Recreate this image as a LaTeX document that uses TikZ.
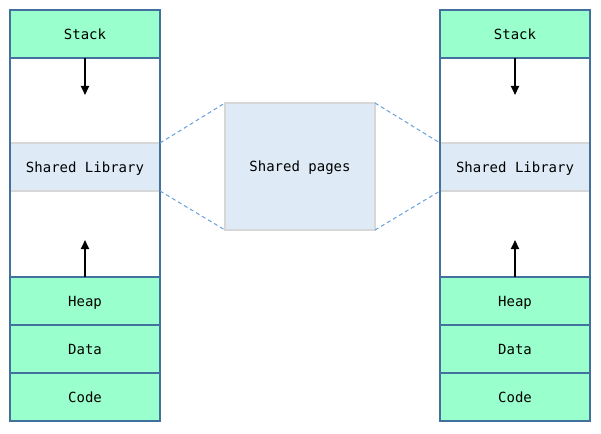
\documentclass[tikz,border=0pt]{standalone}
\usepackage{fontspec}
\setmonofont{DejaVu Sans Mono}
\usetikzlibrary{arrows.meta}
\definecolor{seggreen}{RGB}{153,255,204}
\definecolor{segblue}{RGB}{65,113,156}
\definecolor{shfill}{RGB}{222,235,247}
\definecolor{shgrey}{RGB}{215,215,215}
\definecolor{dashblue}{RGB}{100,160,220}
\tikzset{
  seg/.style={draw=segblue, line width=2pt, fill=seggreen, minimum width=150pt, minimum height=48pt,
    inner sep=0pt, outer sep=0pt, anchor=north west, text height=10.2pt, text depth=0pt,
    font=\ttfamily\fontsize{14pt}{16pt}\selectfont},
  gapbox/.style={seg, draw=none, fill=white},
  shlib/.style={seg, draw=none, fill=shfill},
  shline/.style={draw=shgrey, line width=2pt},
  colline/.style={draw=segblue, line width=2pt},
  growarrow/.style={line width=2pt, -{Triangle[length=9pt,width=8pt]}},
  conn/.style={draw=dashblue, line width=1pt, dash pattern=on 4pt off 3pt},
  shpages/.style={draw=shgrey, line width=2pt, fill=shfill, minimum width=150pt, minimum height=127pt,
    inner sep=0pt, outer sep=0pt, anchor=north west, text height=10.2pt, text depth=0pt,
    font=\ttfamily\fontsize{14pt}{16pt}\selectfont}
}
\begin{document}
\begin{tikzpicture}[x=1pt,y=-1pt]
\useasboundingbox (0,0) rectangle (601,433);
% left column
\node[gapbox, minimum height=85pt] (lgap1) at (10,58) {};
\node[gapbox, minimum height=86pt] (lgap2) at (10,191) {};
\node[shlib] (lsl) at (10,143) {Shared Library};
\draw[shline] (lsl.north west) -- (lsl.north east);
\draw[shline] (lsl.south west) -- (lsl.south east);
\node[seg] (lstack) at (10,10) {Stack};
\node[seg] (lheap) at (10,277) {Heap};
\node[seg] (ldata) at (10,325) {Data};
\node[seg] (lcode) at (10,373) {Code};
\draw[colline] (lstack.north west) rectangle (lcode.south east);
\coordinate (ldn) at ([yshift=-37pt]lstack.south);
\coordinate (lup) at ([yshift=37pt]lheap.north);
\draw[growarrow] (lstack.south) -- (ldn);
\draw[growarrow] (lheap.north) -- (lup);
% right column
\node[gapbox, minimum height=85pt] (rgap1) at (440,58) {};
\node[gapbox, minimum height=86pt] (rgap2) at (440,191) {};
\node[shlib] (rsl) at (440,143) {Shared Library};
\draw[shline] (rsl.north west) -- (rsl.north east);
\draw[shline] (rsl.south west) -- (rsl.south east);
\node[seg] (rstack) at (440,10) {Stack};
\node[seg] (rheap) at (440,277) {Heap};
\node[seg] (rdata) at (440,325) {Data};
\node[seg] (rcode) at (440,373) {Code};
\draw[colline] (rstack.north west) rectangle (rcode.south east);
\coordinate (rdn) at ([yshift=-37pt]rstack.south);
\coordinate (rup) at ([yshift=37pt]rheap.north);
\draw[growarrow] (rstack.south) -- (rdn);
\draw[growarrow] (rheap.north) -- (rup);
% shared pages
\node[shpages] (shp) at (225,103) {Shared pages};
\draw[conn] (lsl.north east) -- (shp.north west);
\draw[conn] (lsl.south east) -- (shp.south west);
\draw[conn] (shp.north east) -- (rsl.north west);
\draw[conn] (shp.south east) -- (rsl.south west);
\end{tikzpicture}
\end{document}
